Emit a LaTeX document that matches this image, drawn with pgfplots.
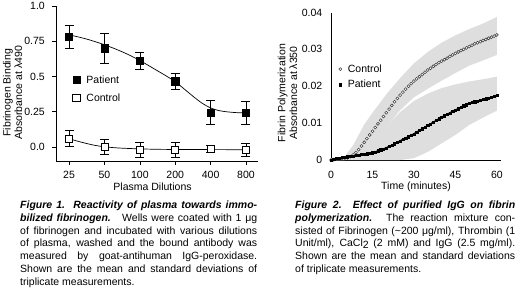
\documentclass[border=0pt]{standalone}
\usepackage{pgfplots}
\usepackage{pgfplotstable}
\pgfplotsset{compat=1.18}
\usepackage{fontspec}
\setmainfont{Liberation Sans}
\newcommand\fs{\fontsize{10.5}{11.6}\selectfont}

\pgfplotstableread{
x y e
0 0.782 0.082
1 0.700 0.106
2 0.609 0.060
3 0.467 0.057
4 0.245 0.086
5 0.240 0.081
}\patientA
\pgfplotstableread{
x y e
0 0.060 0.055
1 0.000 0.053
2 -0.019 0.055
3 -0.022 0.055
4 -0.014 0.027
5 -0.022 0.047
}\controlA

\pgfplotstableread{
t y
0 0.0000
1 0.0001
2 0.0003
3 0.0002
4 0.0004
5 0.0005
6 0.0006
7 0.0009
8 0.0014
9 0.0020
10 0.0028
11 0.0038
12 0.0048
13 0.0058
14 0.0068
15 0.0078
16 0.0088
17 0.0098
18 0.0108
19 0.0118
20 0.0128
21 0.0138
22 0.0148
23 0.0158
24 0.0167
25 0.0176
26 0.0184
27 0.0192
28 0.0200
29 0.0207
30 0.0214
31 0.0220
32 0.0226
33 0.0232
34 0.0238
35 0.0244
36 0.0249
37 0.0254
38 0.0259
39 0.0264
40 0.0268
41 0.0272
42 0.0276
43 0.0281
44 0.0285
45 0.0289
46 0.0293
47 0.0297
48 0.0300
49 0.0304
50 0.0308
51 0.0311
52 0.0315
53 0.0318
54 0.0321
55 0.0324
56 0.0327
57 0.0330
58 0.0333
59 0.0336
60 0.0339
}\controlB
\pgfplotstableread{
t y
0 0.0000
1 0.0002
2 0.0004
3 0.0005
4 0.0007
5 0.0008
6 0.0009
7 0.0010
8 0.0011
9 0.0012
10 0.0014
11 0.0015
12 0.0016
13 0.0017
14 0.0019
15 0.0020
16 0.0022
17 0.0025
18 0.0028
19 0.0030
20 0.0033
21 0.0037
22 0.0040
23 0.0044
24 0.0048
25 0.0052
26 0.0056
27 0.0060
28 0.0063
29 0.0067
30 0.0071
31 0.0076
32 0.0080
33 0.0085
34 0.0089
35 0.0094
36 0.0098
37 0.0103
38 0.0107
39 0.0112
40 0.0116
41 0.0120
42 0.0124
43 0.0128
44 0.0132
45 0.0136
46 0.0139
47 0.0143
48 0.0147
49 0.0150
50 0.0153
51 0.0156
52 0.0158
53 0.0160
54 0.0162
55 0.0164
56 0.0166
57 0.0168
58 0.0170
59 0.0172
60 0.0176
}\patientB

\begin{document}
\begin{tikzpicture}
\useasboundingbox (0pt,0pt) rectangle (520pt,-308pt);

% ---------------- Figure 1 ----------------
\begin{axis}[
  at={(56pt,-161pt)}, anchor=south west, scale only axis,
  width=202pt, height=155pt,
  xmin=-0.37, xmax=5.34, ymin=-0.1, ymax=1.0,
  axis x line*=bottom, axis y line*=left,
  axis line style={black, line width=0.6pt},
  tick style={black, line width=0.6pt}, tick align=outside, major tick length=3.5pt,
  xtick={0,1,2,3,4,5}, xticklabels={25,50,100,200,400,800},
  ytick={0,0.25,0.5,0.75,1}, yticklabels={0.0,0.25,0.5,0.75,1.0},
  xticklabel style={font=\fs, inner sep=0pt, anchor=north, yshift=-6.5pt},
  yticklabel style={font=\fs, inner sep=0pt, anchor=east, xshift=-7.5pt},
  xlabel={Plasma Dilutions},
  xlabel style={font=\fs, at={(axis description cs:0.478,-0.19)}, anchor=base},
  ylabel={Fibrinogen Binding\\Absorbance at λ490},
  ylabel style={font=\fs, align=center, at={(axis description cs:-0.215,0.44)}, anchor=center},
  legend style={at={(axis description cs:0.082,0.56)}, anchor=north west, draw=none, fill=none,
    font=\fs, row sep=7pt, inner sep=0pt, nodes={inner sep=1pt}, cells={anchor=west},
    /tikz/every odd column/.append style={column sep=5.5pt}},
  legend image code/.code={\draw[#1] plot coordinates {(3.6pt,0pt)};},
  clip=false,
]
\addplot[black, line width=0.7pt, smooth, forget plot] coordinates {
(0,0.795)(0.25,0.781)(0.5,0.765)(0.75,0.746)(1,0.725)(1.25,0.701)(1.5,0.675)
(1.75,0.646)(2,0.613)(2.25,0.577)(2.5,0.540)(2.75,0.503)(3,0.463)(3.25,0.412)
(3.5,0.360)(3.75,0.312)(4,0.277)(4.25,0.257)(4.5,0.248)(4.75,0.243)(5,0.241)};
\addplot[black, line width=0.7pt, smooth, forget plot] coordinates {
(0,0.058)(0.25,0.040)(0.5,0.024)(0.75,0.010)(1,0.001)(1.25,-0.005)(1.5,-0.009)
(2,-0.014)(2.5,-0.017)(3,-0.018)(4,-0.019)(5,-0.020)};
\addplot[only marks, mark=square*, mark size=3.6pt, mark options={fill=black, draw=black},
  error bars/.cd, y dir=both, y explicit,
  error bar style={black, line width=0.6pt},
  error mark options={black, rotate=90, mark size=4.5pt, line width=0.6pt}]
  table[x=x, y=y, y error=e] {\patientA};
\addlegendentry{Patient}
\addplot[only marks, mark=square*, mark size=3.6pt, mark options={fill=white, draw=black, line width=0.7pt},
  error bars/.cd, y dir=both, y explicit,
  error bar style={black, line width=0.6pt},
  error mark options={black, rotate=90, mark size=4.5pt, line width=0.6pt}]
  table[x=x, y=y, y error=e] {\controlA};
\addlegendentry{Control}
\end{axis}

% ---------------- Figure 2 ----------------
\begin{axis}[
  at={(331pt,-160pt)}, anchor=south west, scale only axis,
  width=170pt, height=147.5pt,
  xmin=0, xmax=61.5, ymin=0, ymax=0.04,
  axis x line*=bottom, axis y line*=left,
  axis line style={black, line width=0.6pt}, major tick length=0pt,
  xtick={0,15,30,45,60}, xticklabels={0,15,30,45,60},
  ytick={0,0.01,0.02,0.03,0.04}, yticklabels={0,0.01,0.02,0.03,0.04},
  scaled y ticks=false,
  xticklabel style={font=\fs, inner sep=0pt, anchor=north, yshift=-11.3pt},
  yticklabel style={font=\fs, inner sep=0pt, anchor=east, xshift=-8.5pt},
  xlabel={Time (minutes)},
  xlabel style={font=\fs, at={(axis description cs:0.5,-0.203)}, anchor=base},
  ylabel={Fibrin Polymerization\\Absorbance at λ350},
  ylabel style={font=\fs, align=center, at={(axis description cs:-0.256,0.454)}, anchor=center},
  legend style={at={(axis description cs:0.045,0.655)}, anchor=north west, draw=none, fill=none,
    font=\fs, row sep=4.5pt, inner sep=0pt, nodes={inner sep=1pt}, cells={anchor=west},
    /tikz/every odd column/.append style={column sep=5pt}},
  legend image code/.code={\draw[#1] plot coordinates {(3pt,0pt)};},
  clip=false,
]
\addplot[fill=black!13, draw=none, forget plot] coordinates {
(0,0.0003)(5,0.0010)(8,0.0040)(10,0.0068)(12,0.0096)(15,0.0128)(20,0.0178)(25,0.0222)
(30,0.0262)(35,0.0293)(40,0.0318)(45,0.0338)(50,0.0355)(55,0.0370)(60,0.0388)
(60,0.0285)(55,0.0270)(50,0.0256)(45,0.0236)(40,0.0215)(35,0.0193)(30,0.0170)
(25,0.0135)(20,0.0088)(15,0.0045)(12,0.0025)(10,0.0005)(5,0)(0,0)};
\addplot[fill=black!13, draw=none, forget plot] coordinates {
(0,0.0005)(5,0.0010)(10,0.0015)(15,0.0050)(20,0.0090)(25,0.0130)(30,0.0160)(35,0.0180)
(40,0.0195)(45,0.0205)(50,0.0213)(55,0.0219)(60,0.0226)
(60,0.0134)(55,0.0115)(50,0.0095)(45,0.0068)(40,0.0045)(35,0.0022)(30,0.0005)(25,0)(0,0)};
\addplot[black, line width=1.3pt, forget plot] table[x=t, y=y] {\patientB};
\addplot[only marks, mark=*, mark size=1.5pt, mark options={fill=white, draw=black!75, line width=0.55pt}]
  table[x=t, y=y] {\controlB};
\addlegendentry{Control}
\addplot[only marks, mark=square*, mark size=1.1pt, mark options={fill=black, draw=black}]
  table[x=t, y=y] {\patientB};
\addlegendentry{Patient}
\end{axis}

% ---------------- Captions ----------------
\node[anchor=north west, inner sep=0pt] at (20pt,-201pt) {\fs\vbox{\baselineskip=12.7pt
\hbox to 237pt{\bfseries\itshape Figure 1.\ \ Reactivity of plasma towards immo-}
\hbox to 237pt{{\bfseries\itshape bilized fibrinogen.}\ \ \ Wells were coated with 1 μg}
\hbox to 237pt{of fibrinogen and incubated with various dilutions}
\hbox to 237pt{of plasma, washed and the bound antibody was}
\hbox to 237pt{measured by goat-antihuman IgG-peroxidase.}
\hbox to 237pt{Shown are the mean and standard deviations of}
\hbox{triplicate measurements.}}};

\node[anchor=north west, inner sep=0pt] at (295pt,-201pt) {\fs\vbox{\baselineskip=12.7pt
\hbox to 220pt{\bfseries\itshape Figure 2.\ \ Effect of purified IgG on fibrin}
\hbox to 220pt{{\bfseries\itshape polymerization.} The reaction mixture con-}
\hbox to 220pt{sisted of Fibrinogen (\textasciitilde200 μg/ml), Thrombin (1}
\hbox to 220pt{Unit/ml), CaCl\raisebox{-0.35ex}{2} (2 mM) and IgG (2.5 mg/ml).}
\hbox to 220pt{Shown are the mean and standard deviations}
\hbox{of triplicate measurements.}}};
\end{tikzpicture}
\end{document}
